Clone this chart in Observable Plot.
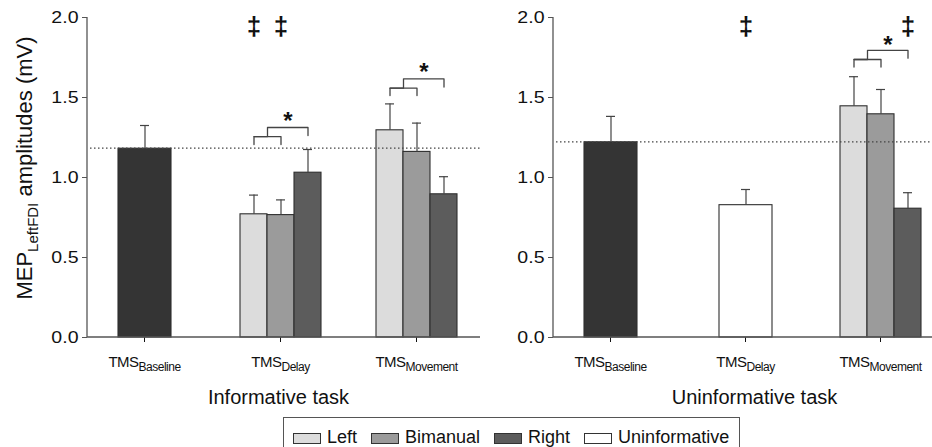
<!DOCTYPE html>
<html><head><meta charset="utf-8">
<script src="https://cdn.jsdelivr.net/npm/d3@7"></script>
<script src="https://cdn.jsdelivr.net/npm/@observablehq/plot@0.6"></script>
<style>
body{margin:0;background:#fff;font-family:"Liberation Sans",Arial,sans-serif;overflow:hidden;}
#wrap{position:relative;width:932px;height:447px;overflow:hidden;background:#fff;}
#left{position:absolute;left:0;top:0;width:480px;}
#right{position:absolute;left:480px;top:0;width:460px;}
#wrap svg{max-width:none !important;}
#legend{position:absolute;left:283px;top:417px;width:457px;height:40px;border:1.3px solid #555;box-sizing:border-box;display:flex;align-items:flex-start;padding:8px 0 0 9px;gap:14px;font-size:18px;color:#111;}
#legend .item{display:flex;align-items:center;gap:6px;line-height:22px;}
#legend .sw{width:26px;height:9px;border:1px solid #333;display:inline-block;margin-top:2px;}
</style></head>
<body><div id="wrap"><div id="left"></div><div id="right"></div><div id="legend"></div></div>
<script>
// ---- data ----
const conditions = ["Baseline", "Delay", "Movement"];
const slots = ["Left", "Bimanual", "Right"];
const seriesNames = ["Baseline", "Left", "Bimanual", "Right", "Uninformative"];
const seriesColors = ["#343434", "#dcdcdc", "#9b9b9b", "#5c5c5c", "#ffffff"];
const legendSeries = ["Left", "Bimanual", "Right", "Uninformative"];
const taskLabels = ["Informative task", "Uninformative task"];
const yTicks = [0, 0.5, 1, 1.5, 2];

// Informative task (mean, SEM in mV)
const infoBaselineMean = 1.18, infoBaselineSem = 0.145;
const infoDelayMean = [0.77, 0.765, 1.03];
const infoDelaySem = [0.12, 0.095, 0.145];
const infoMovementMean = [1.295, 1.16, 0.895];
const infoMovementSem = [0.165, 0.18, 0.11];

// Uninformative task
const uninfBaselineMean = 1.22, uninfBaselineSem = 0.162;
const uninfDelayMean = 0.827, uninfDelaySem = 0.098;
const uninfMovementMean = [1.445, 1.395, 0.805];
const uninfMovementSem = [0.185, 0.155, 0.10];

// significance annotations (levels in mV)
const infoDaggers = [{condition: "Delay", slot: "Left", level: 1.94}, {condition: "Delay", slot: "Bimanual", level: 1.94}];
const uninfDaggers = [{condition: "Delay", slot: "Bimanual", level: 1.94}, {condition: "Movement", slot: "Right", level: 1.94}];
const infoBrackets = [
  {condition: "Delay", lowLeg: 1.206, lowTop: 1.256, highTop: 1.3125, highLeg: 1.2625, star: 1.35},
  {condition: "Movement", lowLeg: 1.5125, lowTop: 1.558, highTop: 1.617, highLeg: 1.565, star: 1.66}
];
const uninfBrackets = [
  {condition: "Movement", lowLeg: 1.69, lowTop: 1.7375, highTop: 1.794, highLeg: 1.746, star: 1.825}
];

// ---- build rows ----
const grouped = (cond, means, sems) => slots.map((s, i) => ({condition: cond, slot: s, series: s, mean: means[i], sem: sems[i]}));
const infoSingles = [{condition: "Baseline", slot: "Bimanual", series: "Baseline", mean: infoBaselineMean, sem: infoBaselineSem}];
const infoGroups = [...grouped("Delay", infoDelayMean, infoDelaySem), ...grouped("Movement", infoMovementMean, infoMovementSem)];
const uninfSingles = [
  {condition: "Baseline", slot: "Bimanual", series: "Baseline", mean: uninfBaselineMean, sem: uninfBaselineSem},
  {condition: "Delay", slot: "Bimanual", series: "Uninformative", mean: uninfDelayMean, sem: uninfDelaySem}
];
const uninfGroups = grouped("Movement", uninfMovementMean, uninfMovementSem);

function bracketLines(brackets) {
  const low = [], high = [];
  brackets.forEach((b, k) => {
    low.push({id: k, condition: b.condition, slot: "Left", v: b.lowLeg},
             {id: k, condition: b.condition, slot: "Left", v: b.lowTop},
             {id: k, condition: b.condition, slot: "Bimanual", v: b.lowTop},
             {id: k, condition: b.condition, slot: "Bimanual", v: b.lowLeg});
    high.push({id: k, condition: b.condition, slot: "Left", v: b.lowTop},
              {id: k, condition: b.condition, slot: "Bimanual", v: b.highTop},
              {id: k, condition: b.condition, slot: "Right", v: b.highTop},
              {id: k, condition: b.condition, slot: "Right", v: b.highLeg});
  });
  return {low, high};
}

const ink = "#2e2e2e";
const font = "Liberation Sans, Arial, sans-serif";

function panel({singles, groups, daggers, brackets, label, width, marginLeft, marginRight, paddingInner, paddingOuter, baseline, labelShift}) {
  const all = [...singles, ...groups];
  const {low, high} = bracketLines(brackets);
  const plot = Plot.plot({
    width, height: 415, marginLeft, marginRight, marginTop: 17, marginBottom: 78,
    style: {fontFamily: font, fontSize: "17px", color: "#111", background: "transparent", overflow: "visible", maxWidth: "none"},
    fx: {domain: conditions, paddingInner, paddingOuter, align: 0, axis: "bottom", label, labelAnchor: "center", labelOffset: 66, tickSize: 5, tickPadding: 14},
    x: {domain: slots, paddingInner: 0, paddingOuter: 0.611, axis: null},
    y: {domain: [0, 2]},
    color: {domain: seriesNames, range: seriesColors},
    marks: [
      Plot.axisY({ticks: yTicks, tickFormat: d3.format(".1f"), tickSize: 5, tickPadding: 4, label: null, fontSize: 16, fill: "#111", stroke: "#555"}),
      Plot.barY(groups, {fx: "condition", x: "slot", y: "mean", fill: "series", stroke: ink, strokeWidth: 1.1}),
      Plot.barY(singles, {fx: "condition", x: "slot", y: "mean", fill: "series", stroke: ink, strokeWidth: 1.1, insetLeft: -13, insetRight: -13}),
      Plot.ruleX(all, {fx: "condition", x: "slot", y1: "mean", y2: d => d.mean + d.sem, stroke: "#444", strokeWidth: 1.2}),
      Plot.tickY(all, {fx: "condition", x: "slot", y: d => d.mean + d.sem, stroke: "#444", strokeWidth: 1.2, insetLeft: 9, insetRight: 9}),
      Plot.line(low, {fx: "condition", x: "slot", y: "v", z: "id", stroke: "#444", strokeWidth: 1.3}),
      Plot.line(high, {fx: "condition", x: "slot", y: "v", z: "id", stroke: "#444", strokeWidth: 1.3, curve: "step"}),
      Plot.text(brackets, {fx: "condition", x: () => "Bimanual", y: "star", text: () => "*", dx: 7, fontSize: 24, fontWeight: "bold", fill: "#111"}),
      Plot.text(daggers, {fx: "condition", x: "slot", y: "level", text: () => "‡", fontSize: 26, fontWeight: "bold", fill: "#111"})
    ]
  });
  const svg = plot.tagName.toLowerCase() === "svg" ? plot : plot.querySelector("svg");
  const y = plot.scale("y");
  const s = d3.select(svg);
  const y0 = y.apply(0), y2 = y.apply(2);
  // axis lines and baseline reference
  s.append("line").attr("x1", marginLeft).attr("x2", width).attr("y1", y0).attr("y2", y0).attr("stroke", "#555").attr("stroke-width", 1.3);
  s.append("line").attr("x1", marginLeft).attr("x2", marginLeft).attr("y1", y0).attr("y2", y2).attr("stroke", "#555").attr("stroke-width", 1.3);
  s.append("line").attr("x1", marginLeft + 3).attr("x2", width).attr("y1", y.apply(baseline)).attr("y2", y.apply(baseline))
    .attr("stroke", "#444").attr("stroke-width", 1.2).attr("stroke-dasharray", "1.5,2.5");
  // subscripted tick labels
  s.selectAll('g[aria-label="fx-axis tick label"] text').each(function () {
    const t = d3.select(this);
    const sub = t.text();
    t.text(null).style("font-size", "15px").style("letter-spacing", "-0.5px");
    t.append("tspan").text("TMS");
    t.append("tspan").attr("dy", 4).style("font-size", "12px").text(sub);
  });
  s.selectAll('g[aria-label="fx-axis label"] text').style("font-size", "20px").attr("dx", labelShift);
  return {plot, svg};
}

const left = panel({singles: infoSingles, groups: infoGroups, daggers: infoDaggers, brackets: infoBrackets, label: taskLabels[0],
  width: 480, marginLeft: 87, marginRight: 1, paddingInner: 0.162, paddingOuter: 0.022, baseline: infoBaselineMean, labelShift: -2});
const right = panel({singles: uninfSingles, groups: uninfGroups, daggers: uninfDaggers, brackets: uninfBrackets, label: taskLabels[1],
  width: 460, marginLeft: 73, marginRight: 0, paddingInner: 0.1556, paddingOuter: 0.011, baseline: uninfBaselineMean, labelShift: 9});

// y-axis title with subscript
const yl = d3.select(left.svg).append("text").attr("transform", "translate(32,168) rotate(-90)")
  .attr("text-anchor", "middle").style("font-size", "22px").attr("fill", "#111");
yl.append("tspan").text("MEP");
yl.append("tspan").attr("dy", 6).style("font-size", "15px").text("LeftFDI");
yl.append("tspan").attr("dy", -6).text(" amplitudes (mV)");

document.getElementById("left").appendChild(left.plot);
document.getElementById("right").appendChild(right.plot);

// widen y tick labels slightly (reference glyphs are horizontally broad)
const tickTexts = new Set(yTicks.map(d3.format(".1f")));
[left.svg, right.svg].forEach(svg => {
  d3.select(svg).selectAll("text").filter(function () { return tickTexts.has(this.textContent.trim()); })
    .each(function () {
      const L = this.getComputedTextLength();
      if (L > 0) d3.select(this).attr("textLength", L * 1.22).attr("lengthAdjust", "spacingAndGlyphs");
    });
});

// legend
const lg = d3.select("#legend");
legendSeries.forEach(name => {
  const it = lg.append("div").attr("class", "item");
  it.append("span").attr("class", "sw").style("background", seriesColors[seriesNames.indexOf(name)]);
  it.append("span").text(name);
});
</script></body></html>
